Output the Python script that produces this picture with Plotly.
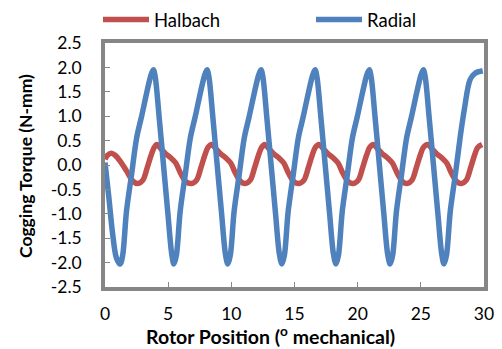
import plotly.graph_objects as go

# ---- data ----
halbach_x = [0, 0.2, 0.5, 0.8, 1.2, 1.7, 2.2, 2.6,
             3.0, 3.35, 3.65, 3.9, 4.1,
             4.4, 4.8, 5.2, 5.6, 6.0, 6.4, 6.85,
             7.25, 7.6, 7.9, 8.15, 8.45,
             8.75, 9.15, 9.55, 9.95, 10.35, 10.75, 11.1,
             11.5, 11.85, 12.15, 12.4, 12.65,
             12.95, 13.35, 13.75, 14.15, 14.55, 14.95, 15.35,
             15.75, 16.1, 16.4, 16.65, 16.95,
             17.25, 17.65, 18.05, 18.45, 18.85, 19.25, 19.65,
             20.05, 20.4, 20.7, 20.95, 21.25,
             21.55, 21.95, 22.35, 22.75, 23.15, 23.55, 23.9,
             24.3, 24.65, 24.95, 25.2, 25.55,
             25.85, 26.25, 26.65, 27.05, 27.45, 27.85, 28.2,
             28.6, 28.95, 29.25, 29.5, 29.85]
halbach_y = [0.12, 0.2, 0.24, 0.2, 0.08, -0.12, -0.33, -0.38,
             -0.31, -0.05, 0.2, 0.36, 0.42,
             0.34, 0.23, 0.15, 0.04, -0.18, -0.34, -0.38,
             -0.31, -0.05, 0.2, 0.36, 0.42,
             0.34, 0.23, 0.15, 0.04, -0.18, -0.34, -0.38,
             -0.31, -0.05, 0.2, 0.36, 0.42,
             0.34, 0.23, 0.15, 0.04, -0.18, -0.34, -0.38,
             -0.31, -0.05, 0.2, 0.36, 0.42,
             0.34, 0.23, 0.15, 0.04, -0.18, -0.34, -0.38,
             -0.31, -0.05, 0.2, 0.36, 0.42,
             0.34, 0.23, 0.15, 0.04, -0.18, -0.34, -0.38,
             -0.31, -0.05, 0.2, 0.36, 0.42,
             0.34, 0.23, 0.15, 0.04, -0.18, -0.34, -0.38,
             -0.31, -0.05, 0.2, 0.36, 0.42]

radial_x = [0, 0.3, 0.6, 0.9, 1.2,
            1.4, 1.7, 2.1, 2.5, 2.9, 3.3, 3.65, 3.83,
            3.98, 4.28, 4.63, 4.98, 5.28, 5.45,
            5.65, 5.95, 6.35, 6.75, 7.15, 7.55, 7.9, 8.08,
            8.23, 8.53, 8.88, 9.23, 9.53, 9.72,
            9.92, 10.22, 10.62, 11.02, 11.42, 11.82, 12.17, 12.35,
            12.5, 12.8, 13.15, 13.5, 13.8, 14.0,
            14.2, 14.5, 14.9, 15.3, 15.7, 16.1, 16.45, 16.63,
            16.78, 17.08, 17.43, 17.78, 18.08, 18.28,
            18.48, 18.78, 19.18, 19.58, 19.98, 20.38, 20.73, 20.92,
            21.07, 21.37, 21.72, 22.07, 22.37, 22.57,
            22.77, 23.07, 23.47, 23.87, 24.27, 24.67, 25.02, 25.2,
            25.35, 25.65, 26.0, 26.35, 26.65, 26.83,
            27.03, 27.33, 27.73, 28.13, 28.45, 28.9, 29.3, 29.9]
radial_y = [0.05, -0.65, -1.4, -1.9, -2.03,
            -1.85, -0.95, -0.2, 0.55, 1.0, 1.48, 1.85, 1.95,
            1.8, 1.0, 0.0, -1.0, -1.82, -2.03,
            -1.85, -0.95, -0.2, 0.55, 1.0, 1.48, 1.85, 1.95,
            1.8, 1.0, 0.0, -1.0, -1.82, -2.03,
            -1.85, -0.95, -0.2, 0.55, 1.0, 1.48, 1.85, 1.95,
            1.8, 1.0, 0.0, -1.0, -1.82, -2.03,
            -1.85, -0.95, -0.2, 0.55, 1.0, 1.48, 1.85, 1.95,
            1.8, 1.0, 0.0, -1.0, -1.82, -2.03,
            -1.85, -0.95, -0.2, 0.55, 1.0, 1.48, 1.85, 1.95,
            1.8, 1.0, 0.0, -1.0, -1.82, -2.03,
            -1.85, -0.95, -0.2, 0.55, 1.0, 1.48, 1.85, 1.95,
            1.8, 1.0, 0.0, -1.0, -1.82, -2.03,
            -1.85, -0.95, -0.2, 0.6, 1.15, 1.75, 1.88, 1.93]

x_ticks = [0, 5, 10, 15, 20, 25, 30]
y_ticks = [-2.5, -2.0, -1.5, -1.0, -0.5, 0.0, 0.5, 1.0, 1.5, 2.0, 2.5]
y_tick_labels = ["-2.5", "-2.0", "-1.5", "-1.0", "-0.5", "0.0", "0.5", "1.0", "1.5", "2.0", "2.5"]
x_title = "<b>Rotor Position (<sup>o</sup> mechanical)</b>"
y_title = "<b>Cogging Torque (N-mm)</b>"

FONT = "Lato"
AXIS_COLOR = "#868686"

fig = go.Figure()
fig.add_trace(go.Scatter(x=halbach_x, y=halbach_y, mode="lines", name="Halbach",
                         legend="legend",
                         line=dict(color="#C0504D", width=5.5, shape="spline", smoothing=0.9)))
fig.add_trace(go.Scatter(x=radial_x, y=radial_y, mode="lines", name="Radial",
                         legend="legend2",
                         line=dict(color="#4F81BD", width=5.5, shape="spline", smoothing=0.9)))

legend_common = dict(orientation="h", xref="container", yref="container",
                     xanchor="left", yanchor="middle", itemwidth=46,
                     font=dict(family=FONT, size=18.5, color="black"),
                     bgcolor="rgba(0,0,0,0)", borderwidth=0)

fig.update_layout(
    width=502, height=349,
    margin=dict(l=105, r=18, t=43, b=62, autoexpand=False),
    paper_bgcolor="white", plot_bgcolor="white",
    font=dict(family=FONT, size=17, color="black"),
    showlegend=True,
    legend=dict(x=98 / 502, y=1 - 20 / 349, **legend_common),
    legend2=dict(x=311 / 502, y=1 - 20 / 349, **legend_common),
    xaxis=dict(range=[0, 30], tickvals=x_ticks, ticks="inside", ticklen=5,
               tickcolor=AXIS_COLOR, tickwidth=1,
               showline=True, linecolor=AXIS_COLOR, linewidth=3.5, mirror=True,
               showgrid=False, zeroline=False, ticklabelstandoff=8,
               tickfont=dict(family=FONT, size=17.5)),
    yaxis=dict(range=[-2.5, 2.5], tickvals=y_ticks, ticktext=y_tick_labels,
               ticks="inside", ticklen=5, tickcolor=AXIS_COLOR, tickwidth=1,
               showline=True, linecolor=AXIS_COLOR, linewidth=3.5, mirror=True,
               showgrid=False, zeroline=False, ticklabelstandoff=16,
               tickfont=dict(family=FONT, size=17.5)),
    annotations=[
        dict(text=x_title, xref="paper", yref="paper",
             x=(270.5 - 105) / 379, y=(287 - 335) / 244,
             xanchor="center", yanchor="middle", showarrow=False,
             font=dict(family=FONT, size=19.5, color="black")),
        dict(text=y_title, xref="paper", yref="paper", textangle=-90,
             x=(25 - 105) / 379, y=(287 - 166) / 244,
             xanchor="center", yanchor="middle", showarrow=False,
             font=dict(family=FONT, size=17.5, color="black")),
    ],
)

fig.write_html("out.html", config={"displayModeBar": False},
               post_script="document.body.style.margin='0';")
